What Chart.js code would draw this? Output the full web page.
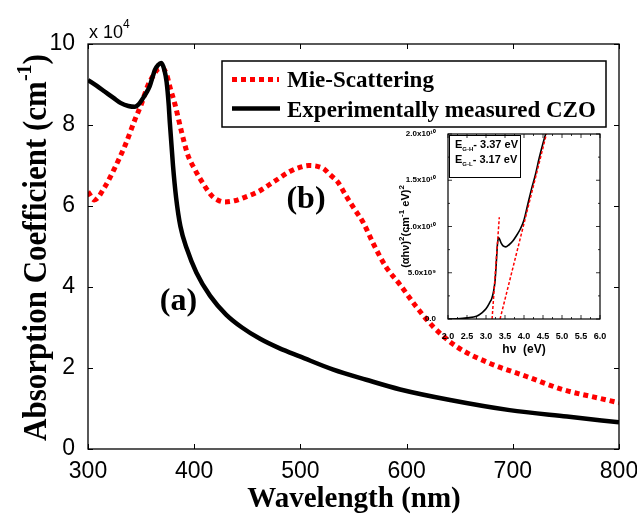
<!DOCTYPE html>
<html><head><meta charset="utf-8">
<script src="https://cdn.jsdelivr.net/npm/chart.js@4.4.0/dist/chart.umd.min.js"></script>
<style>
html,body{margin:0;padding:0;background:#fff;}
#wrap{position:relative;width:637px;height:514px;overflow:hidden;}
#main{position:absolute;left:0;top:0;}
#inset{position:absolute;left:385px;top:120px;}
</style></head><body>
<div id="wrap"><canvas id="main" width="637" height="514"></canvas><canvas id="inset" width="240" height="245"></canvas></div>
<script>
// ---- main chart data (absorption in units of 10^4 cm^-1) ----
const mieWavelength = [300,306,316,325,335,344,350,356,361,366,370,374,377,382,388,394,400,408,416,422,429,438,448,460,475,490,500,508,516,522,528,535,543,551,559,569,575,581,594,608,625,647,678,713,748,782,800];
const mieAbsorption = [6.35,6.15,6.48,6.93,7.5,8.12,8.5,8.95,9.2,9.38,9.4,9.25,8.95,8.5,7.84,7.26,6.93,6.57,6.27,6.15,6.1,6.13,6.22,6.35,6.6,6.85,6.96,7.0,6.98,6.92,6.77,6.6,6.25,5.92,5.6,5.05,4.75,4.48,4.05,3.55,3.02,2.53,2.12,1.79,1.46,1.25,1.14];
const czoWavelength = [300,308,316,324,331,338,344,348,352,355,358,361,363,366,369,372,374,376,377,380,383,387,393,402,415,430,445,462,480,500,531,562,594,641,697,751,800];
const czoAbsorption = [9.11,8.97,8.82,8.67,8.54,8.47,8.45,8.52,8.67,8.8,8.95,9.2,9.36,9.48,9.53,9.35,9.07,8.5,8.08,7.01,6.2,5.5,4.95,4.36,3.78,3.32,3.0,2.72,2.49,2.28,1.96,1.71,1.47,1.21,0.96,0.80,0.66];
const xTickValues = [300,400,500,600,700,800];
const yTickValues = [0,2,4,6,8,10];
const seriesNames = ['Mie-Scattering','Experimentally measured CZO'];

// ---- inset data: (alpha h nu)^2 in units of 10^10 ----
const insetEnergy = [2.0,2.25,2.5,2.75,2.9,3.0,3.1,3.15,3.2,3.24,3.27,3.3,3.33,3.36,3.4,3.45,3.52,3.6,3.7,3.8,3.9,4.0,4.1,4.2,4.3,4.4,4.5,4.57];
const insetTauc = [0,0.003,0.012,0.03,0.07,0.11,0.18,0.22,0.3,0.42,0.6,0.8,0.88,0.86,0.82,0.79,0.78,0.8,0.84,0.9,0.97,1.07,1.24,1.41,1.56,1.74,1.9,2.0];
const fitLowEnergy = [3.16,3.35];
const fitLowTauc = [0,1.1];
const fitHighEnergy = [3.37,4.59];
const fitHighTauc = [0,2.0];
const insetXTickValues = [2.0,2.5,3.0,3.5,4.0,4.5,5.0,5.5,6.0];
const insetYTickValues = [0,0.5,1.0,1.5,2.0];
const insetYTickLabels = ['0.0','5.0x10\u2079','1.0x10\u00b9\u2070','1.5x10\u00b9\u2070','2.0x10\u00b9\u2070'];
const gapLabels = ['- 3.37 eV','- 3.17 eV'];

function rich(ctx, parts, x, y, align){
  const w = parts.map(p=>{ctx.font=p.font; return ctx.measureText(p.text).width;});
  const tot = w.reduce((a,b)=>a+b,0);
  let cx = align==='center' ? x-tot/2 : x;
  ctx.textAlign='left'; ctx.textBaseline='alphabetic';
  parts.forEach((p,i)=>{ctx.font=p.font; ctx.fillText(p.text,cx,y+(p.dy||0)); cx+=w[i];});
}

const SERIF='"Liberation Serif","Times New Roman",serif';
const SANS='"Liberation Sans",Arial,sans-serif';

const mainDeco = {
  id:'mainDeco',
  afterDatasetsDraw(chart){
    const ctx=chart.ctx, ca=chart.chartArea, xs=chart.scales.x, ys=chart.scales.y;
    ctx.save();
    ctx.strokeStyle='#000'; ctx.lineWidth=1.3;
    ctx.strokeRect(ca.left,ca.top,ca.right-ca.left,ca.bottom-ca.top);
    ctx.lineWidth=1;
    ctx.beginPath();
    xTickValues.forEach(v=>{const p=Math.round(xs.getPixelForValue(v))+0.5;
      ctx.moveTo(p,ca.bottom);ctx.lineTo(p,ca.bottom-5);ctx.moveTo(p,ca.top);ctx.lineTo(p,ca.top+5);});
    yTickValues.forEach(v=>{const p=Math.round(ys.getPixelForValue(v))+0.5;
      ctx.moveTo(ca.left,p);ctx.lineTo(ca.left+5,p);ctx.moveTo(ca.right,p);ctx.lineTo(ca.right-5,p);});
    ctx.stroke();
    // exponent
    ctx.fillStyle='#000';
    rich(ctx,[{text:'x 10',font:'18px '+SANS},{text:'4',font:'12px '+SANS,dy:-10}],ca.left+1,ca.top-6,'left');
    // legend
    ctx.fillStyle='#fff';
    ctx.fillRect(222,61,384,66);
    ctx.lineWidth=1.5; ctx.strokeStyle='#000';
    ctx.strokeRect(222,61,384,66);
    ctx.lineWidth=5; ctx.strokeStyle='#ff0000'; ctx.setLineDash([5,4]);
    ctx.beginPath(); ctx.moveTo(232,79.5); ctx.lineTo(279,79.5); ctx.stroke();
    ctx.setLineDash([]); ctx.strokeStyle='#000'; ctx.lineWidth=4.5;
    ctx.beginPath(); ctx.moveTo(232,108.5); ctx.lineTo(280,108.5); ctx.stroke();
    ctx.fillStyle='#000';
    ctx.font='bold 23px '+SERIF; ctx.textAlign='left'; ctx.textBaseline='alphabetic';
    ctx.fillText(seriesNames[0],287,87);
    ctx.fillText(seriesNames[1],287,117);
    // curve labels
    ctx.font='bold 32px '+SERIF; ctx.textAlign='center';
    ctx.fillText('(a)',178.5,310);
    ctx.fillText('(b)',306,208);
    // axis titles
    ctx.font='bold 29px '+SERIF;
    ctx.fillText('Wavelength (nm)',354,507);
    ctx.save();
    ctx.translate(46,247.5); ctx.rotate(-Math.PI/2); ctx.scale(1,1.1);
    rich(ctx,[{text:'Absorption Coefficient (cm',font:'bold 31px '+SERIF},{text:'-1',font:'bold 20px '+SERIF,dy:-14},{text:')',font:'bold 31px '+SERIF}],0,0,'center');
    ctx.restore();
    ctx.restore();
  }
};

new Chart(document.getElementById('main'),{
  type:'line',
  data:{datasets:[
    {label:seriesNames[1],data:czoWavelength.map((x,i)=>({x:x,y:czoAbsorption[i]})),borderColor:'#000',borderWidth:4.5,pointRadius:0,cubicInterpolationMode:'monotone',borderJoinStyle:'round',order:0},
    {label:seriesNames[0],data:mieWavelength.map((x,i)=>({x:x,y:mieAbsorption[i]})),borderColor:'#ff0000',borderWidth:5,borderDash:[5,4],pointRadius:0,cubicInterpolationMode:'monotone',order:1}
  ]},
  options:{
    responsive:false,animation:false,devicePixelRatio:1,
    layout:{padding:{top:44,right:18,left:0,bottom:0}},
    plugins:{legend:{display:false},tooltip:{enabled:false}},
    scales:{
      x:{type:'linear',min:300,max:800,
        afterBuildTicks:s=>{s.ticks=xTickValues.map(v=>({value:v}));},
        ticks:{font:{family:SANS,size:23},color:'#000',padding:1,maxRotation:0,autoSkip:false},
        grid:{display:false},border:{display:false},
        afterFit:s=>{s.height=65;s.paddingLeft=0;s.paddingRight=0;}},
      y:{type:'linear',min:0,max:10,
        afterBuildTicks:s=>{s.ticks=yTickValues.map(v=>({value:v}));},
        ticks:{font:{family:SANS,size:23},color:'#000',padding:5},
        grid:{display:false},border:{display:false},
        afterFit:s=>{s.width=88;s.paddingTop=0;s.paddingBottom=0;}}
    }
  },
  plugins:[mainDeco]
});

const insetDeco = {
  id:'insetDeco',
  afterDatasetsDraw(chart){
    const ctx=chart.ctx, ca=chart.chartArea, xs=chart.scales.x, ys=chart.scales.y;
    ctx.save();
    ctx.strokeStyle='#000'; ctx.lineWidth=1.2;
    ctx.strokeRect(ca.left,ca.top,ca.right-ca.left,ca.bottom-ca.top);
    ctx.lineWidth=0.8; ctx.beginPath();
    for(let v=2.0; v<=6.001; v+=0.25){const p=xs.getPixelForValue(v); const L=(Math.abs(v*2-Math.round(v*2))<1e-6)?4:2;
      ctx.moveTo(p,ca.bottom);ctx.lineTo(p,ca.bottom-L);ctx.moveTo(p,ca.top);ctx.lineTo(p,ca.top+L);}
    for(let v=0; v<=2.001; v+=0.25){const p=ys.getPixelForValue(v); const L=(Math.abs(v*2-Math.round(v*2))<1e-6)?4:2;
      ctx.moveTo(ca.left,p);ctx.lineTo(ca.left+L,p);ctx.moveTo(ca.right,p);ctx.lineTo(ca.right-L,p);}
    ctx.stroke();
    // legend box
    ctx.lineWidth=1; ctx.strokeRect(ca.left+1.5,ca.top+1.5,71,42);
    ctx.fillStyle='#000';
    rich(ctx,[{text:'E',font:'bold 11px '+SANS},{text:'G-H',font:'bold 6px '+SANS,dy:3},{text:gapLabels[0],font:'bold 11px '+SANS}],ca.left+7,28,'left');
    rich(ctx,[{text:'E',font:'bold 11px '+SANS},{text:'G-L',font:'bold 6px '+SANS,dy:3},{text:gapLabels[1],font:'bold 11px '+SANS}],ca.left+7,43,'left');
    // titles
    ctx.font='bold 12px '+SANS; ctx.textAlign='center'; ctx.fillText('h\u03bd  (eV)',(ca.left+ca.right)/2,233);
    ctx.save(); ctx.translate(24,(ca.top+ca.bottom)/2); ctx.rotate(-Math.PI/2);
    rich(ctx,[{text:'(\u03b1h\u03bd)',font:'bold 11px '+SANS},{text:'2',font:'bold 8px '+SANS,dy:-5},{text:'(cm',font:'bold 11px '+SANS},{text:'-1',font:'bold 8px '+SANS,dy:-5},{text:' eV)',font:'bold 11px '+SANS},{text:'2',font:'bold 8px '+SANS,dy:-5}],0,0,'center');
    ctx.restore();
    ctx.restore();
  }
};

new Chart(document.getElementById('inset'),{
  type:'line',
  data:{datasets:[
    {data:insetEnergy.map((x,i)=>({x:x,y:insetTauc[i]})),borderColor:'#000',borderWidth:1.6,pointRadius:0,cubicInterpolationMode:'monotone',order:1},
    {data:fitLowEnergy.map((x,i)=>({x:x,y:fitLowTauc[i]})),borderColor:'#ff0000',borderWidth:1.5,borderDash:[3,2],pointRadius:0,order:0},
    {data:fitHighEnergy.map((x,i)=>({x:x,y:fitHighTauc[i]})),borderColor:'#ff0000',borderWidth:1.5,borderDash:[3,2],pointRadius:0,order:0}
  ]},
  options:{
    responsive:false,animation:false,devicePixelRatio:1,
    layout:{padding:{top:14,right:25,left:0,bottom:0}},
    plugins:{legend:{display:false},tooltip:{enabled:false}},
    scales:{
      x:{type:'linear',min:2,max:6,
        afterBuildTicks:s=>{s.ticks=insetXTickValues.map(v=>({value:v}));},
        ticks:{font:{family:SANS,size:9,weight:'bold'},color:'#000',padding:4,maxRotation:0,autoSkip:false,callback:v=>v.toFixed(1)},
        grid:{display:false},border:{display:false},
        afterFit:s=>{s.height=46;s.paddingLeft=0;s.paddingRight=0;}},
      y:{type:'linear',min:0,max:2,
        afterBuildTicks:s=>{s.ticks=insetYTickValues.map(v=>({value:v}));},
        ticks:{font:{family:SANS,size:8,weight:'bold'},color:'#000',padding:4,callback:(v,i)=>insetYTickLabels[i]},
        grid:{display:false},border:{display:false},
        afterFit:s=>{s.width=63;s.paddingTop=0;s.paddingBottom=0;}}
    }
  },
  plugins:[insetDeco]
});
</script>
</body></html>
